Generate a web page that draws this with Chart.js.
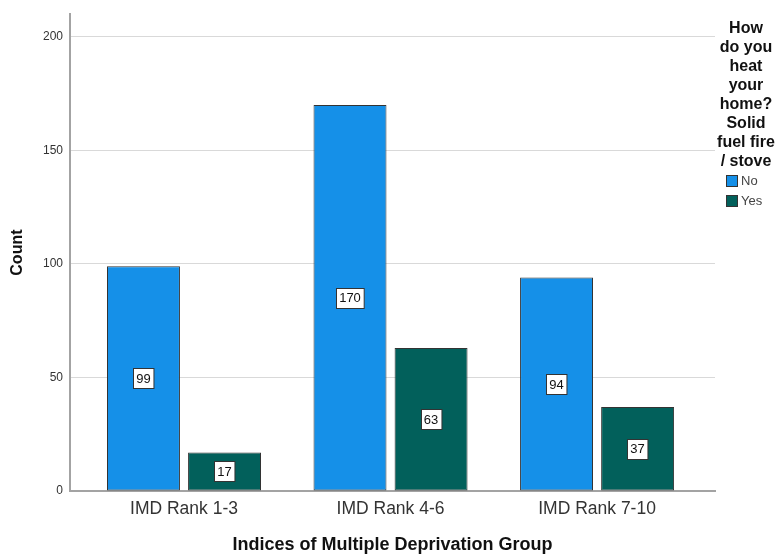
<!DOCTYPE html>
<html>
<head>
<meta charset="utf-8">
<script src="https://cdn.jsdelivr.net/npm/chart.js@4.4.1/dist/chart.umd.min.js"></script>
<style>
    html, body { margin: 0; padding: 0; background: #fff; }
    #wrap { width: 778px; height: 554px; }
</style>
</head>
<body>
<div id="wrap"><canvas id="chart" width="778" height="554"></canvas></div>
<script>
// Данные графика
const categories = ['IMD Rank 1-3', 'IMD Rank 4-6', 'IMD Rank 7-10'];
const seriesNames = ['No', 'Yes'];
const noValues = [99, 170, 94];
const yesValues = [17, 63, 37];
const yTicks = [0, 50, 100, 150, 200];
const legendTitle = ['How', 'do you', 'heat', 'your', 'home?', 'Solid', 'fuel fire', '/ stove'];

const COLORS = {
    no: '#1590e8',
    yes: '#02605b',
    border: '#333333',
    axis: '#a3a3a3',
    grid: '#d9d9d9',
    text: '#333333'
};

const FONT = "'Liberation Sans', Arial, sans-serif";
Chart.defaults.font.family = FONT;

// Подписи значений в белых рамках посередине столбцов
const valueLabels = {
    id: 'valueLabels',
    afterDatasetsDraw(chart) {
        const ctx = chart.ctx;
        ctx.save();
        ctx.font = '13px ' + FONT;
        ctx.textAlign = 'center';
        ctx.textBaseline = 'middle';
        chart.data.datasets.forEach((ds, di) => {
            chart.getDatasetMeta(di).data.forEach((bar, i) => {
                const text = String(ds.data[i].y);
                const cy = (bar.y + bar.base) / 2;
                const w = ctx.measureText(text).width + 6;
                const h = 20;
                const x0 = Math.round(bar.x - w / 2) + 0.5;
                const y0 = Math.round(cy - h / 2) + 0.5;
                ctx.fillStyle = '#ffffff';
                ctx.fillRect(x0, y0, w, h);
                ctx.strokeStyle = COLORS.border;
                ctx.lineWidth = 1;
                ctx.strokeRect(x0, y0, w, h);
                ctx.fillStyle = '#111111';
                ctx.fillText(text, bar.x, cy + 1);
            });
        });
        ctx.restore();
    }
};

// Легенда справа с многострочным заголовком
const sideLegend = {
    id: 'sideLegend',
    afterDraw(chart) {
        const ctx = chart.ctx;
        ctx.save();
        ctx.font = 'bold 16px ' + FONT;
        ctx.fillStyle = '#111111';
        ctx.textAlign = 'center';
        ctx.textBaseline = 'middle';
        legendTitle.forEach((line, i) => {
            ctx.fillText(line, 746, 29 + i * 19);
        });
        ctx.font = '13px ' + FONT;
        ctx.textAlign = 'left';
        chart.data.datasets.forEach((ds, i) => {
            const y = 175 + i * 20;
            ctx.fillStyle = ds.backgroundColor;
            ctx.fillRect(726, y, 12, 12);
            ctx.strokeStyle = COLORS.border;
            ctx.lineWidth = 1;
            ctx.strokeRect(726.5, y + 0.5, 11, 11);
            ctx.fillStyle = '#444444';
            ctx.fillText(ds.label, 741, y + 6.5);
        });
        ctx.restore();
    }
};

const chart = new Chart(document.getElementById('chart'), {
    type: 'bar',
    data: {
        datasets: [
            {
                label: seriesNames[0],
                data: noValues.map((v, i) => ({ x: i, y: v })),
                backgroundColor: COLORS.no,
                borderColor: COLORS.border,
                borderWidth: 1,
                borderSkipped: false
            },
            {
                label: seriesNames[1],
                data: yesValues.map((v, i) => ({ x: i, y: v })),
                backgroundColor: COLORS.yes,
                borderColor: COLORS.border,
                borderWidth: 1,
                borderSkipped: false
            }
        ]
    },
    options: {
        responsive: false,
        animation: false,
        categoryPercentage: 0.785,
        barPercentage: 0.9,
        layout: { padding: { top: 12, right: 63, left: 0, bottom: 0 } },
        plugins: {
            legend: { display: false },
            tooltip: { enabled: false }
        },
        scales: {
            x: {
                type: 'linear',
                offset: false,
                min: -0.552,
                max: 2.571,
                afterBuildTicks: scale => { scale.ticks = categories.map((c, i) => ({ value: i })); },
                afterFit: scale => { scale.height = 63; },
                grid: { display: false },
                border: { display: true, color: COLORS.axis, width: 2 },
                ticks: {
                    autoSkip: false,
                    maxRotation: 0,
                    padding: 0,
                    color: COLORS.text,
                    font: { size: 17.5 },
                    callback: value => categories[value]
                },
                title: {
                    display: true,
                    text: 'Indices of Multiple Deprivation Group',
                    color: '#111111',
                    font: { size: 18, weight: 'bold', lineHeight: 1 },
                    padding: { top: 0, bottom: 0 }
                }
            },
            y: {
                min: 0,
                max: 210,
                afterBuildTicks: scale => { scale.ticks = yTicks.map(v => ({ value: v })); },
                afterFit: scale => { scale.width = 70; },
                grid: { color: COLORS.grid, lineWidth: 1, drawTicks: false },
                border: { display: true, color: COLORS.axis, width: 2 },
                ticks: {
                    padding: 7,
                    color: COLORS.text,
                    font: { size: 12 }
                },
                title: {
                    display: true,
                    text: 'Count',
                    color: '#111111',
                    font: { size: 16, weight: 'bold' },
                    padding: { top: 8, bottom: 0 }
                }
            }
        }
    },
    plugins: [valueLabels, sideLegend]
});
</script>
</body>
</html>
